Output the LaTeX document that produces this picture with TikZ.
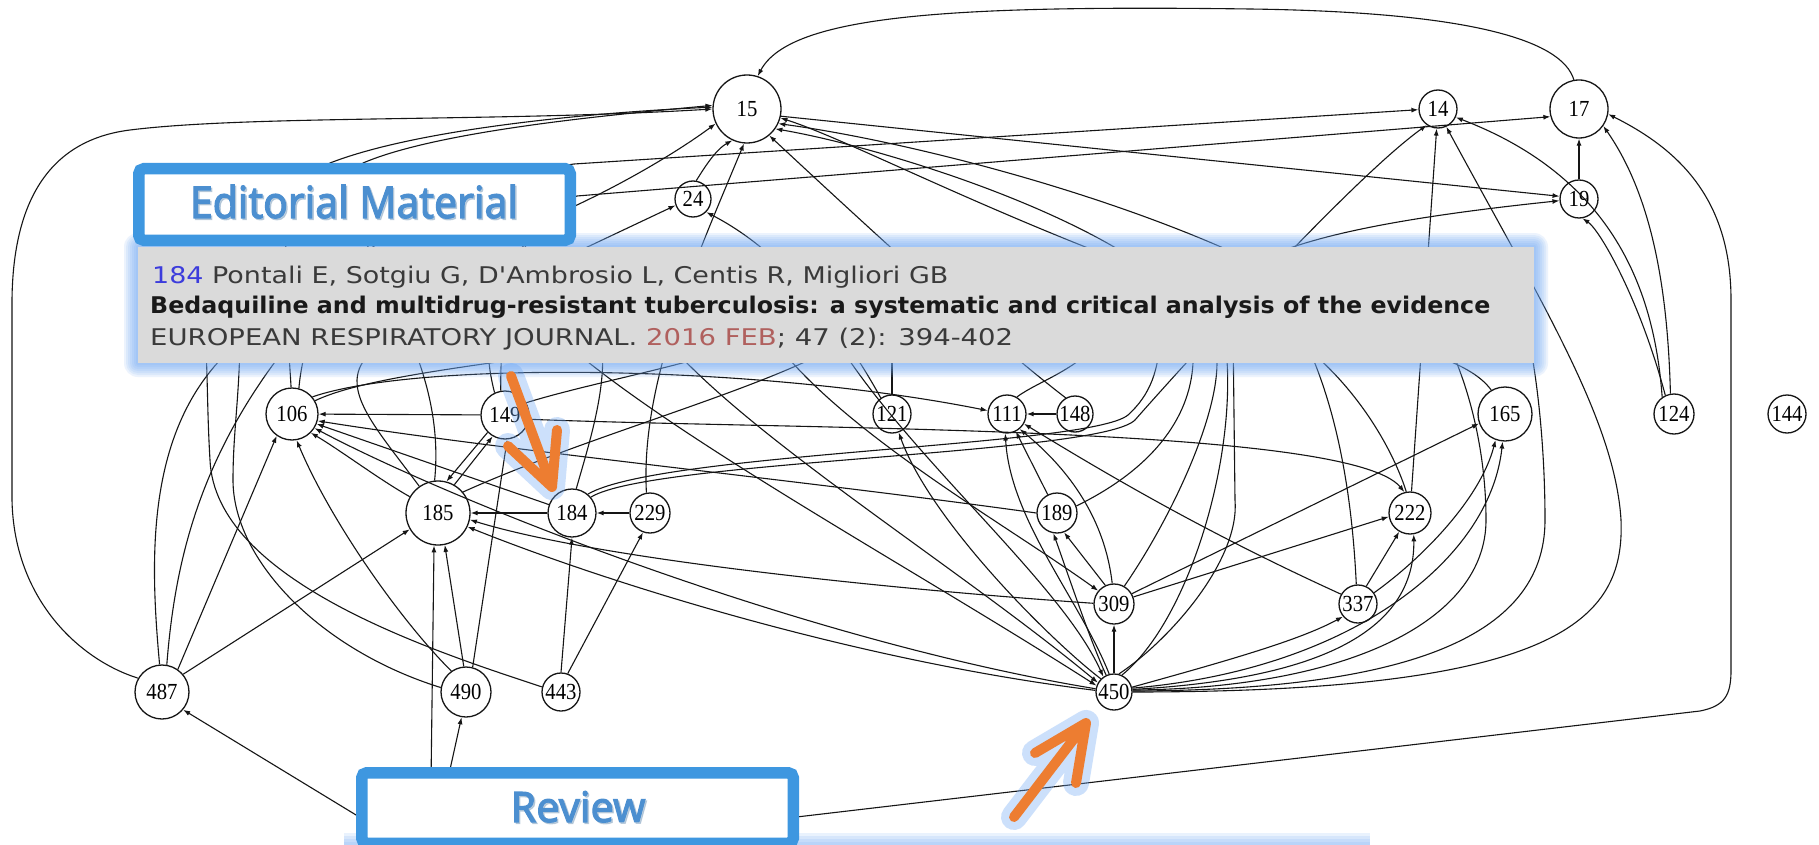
\documentclass[tikz,border=0pt]{standalone}
\usepackage{fontspec}
\usepackage{graphicx}
\usetikzlibrary{arrows.meta}
\newfontfamily\nodefont{Liberation Serif}
\newfontfamily\tipfont{DejaVu Sans}
\newfontfamily\boxfont[FakeBold=2.5]{Noto Sans}
\definecolor{edgeblk}{HTML}{151515}
\definecolor{boxblue}{HTML}{3E97E0}
\definecolor{boxtext}{HTML}{4C8FD0}
\definecolor{tipgray}{HTML}{DADADA}
\definecolor{glow}{HTML}{6FA8F5}
\definecolor{orangearr}{HTML}{ED7D31}
\definecolor{numblue}{HTML}{3C3CDC}
\definecolor{txtgray}{HTML}{3A3A3A}
\definecolor{datered}{HTML}{B0605E}
\definecolor{txtshadow}{HTML}{9AB4CC}
\newcommand\lab[1]{\scalebox{0.9}[1]{#1}}
\newcommand\edtext{\resizebox{328pt}{\height}{\boxfont\fontsize{44}{44}\selectfont Editorial Material}}
\newcommand\rvtext{\resizebox{135pt}{\height}{\boxfont\fontsize{42}{42}\selectfont Review}}
\tikzset{
  nd/.style={circle,draw=edgeblk,line width=1.3pt,inner sep=0pt,minimum size=#1,
    font=\nodefont\fontsize{23}{23}\selectfont},
  ed/.style={draw=edgeblk,line width=1.1pt,-{Latex[length=7pt,width=5pt]}},
  ln/.style={draw=edgeblk,line width=1.1pt},
  orarrow/.style={draw=orangearr,line width=10pt,line cap=round,line join=round},
  orglow/.style={draw=glow,line width=26pt,line cap=round,line join=round,opacity=0.35},
  bluebox/.style={draw=boxblue,fill=white,line width=11.5pt,rounded corners=5pt},
}
\begin{document}
\begin{tikzpicture}[x=1pt,y=-1pt]
\useasboundingbox (0,0) rectangle (1819,845);
\clip (0,0) rectangle (1819,845);
\fill[white] (0,0) rectangle (1819,845);
% ---------------- nodes
\node[nd=68pt]  (n15)  at (747,109) {\lab{15}};
\node[nd=36pt]  (n24)  at (693,199) {\lab{24}};
\node[nd=38pt]  (n14)  at (1438,109) {\lab{14}};
\node[nd=58pt]  (n17)  at (1579,109) {\lab{17}};
\node[nd=38pt]  (n19)  at (1579,199) {\lab{19}};
\node[nd=52pt]  (n106) at (292,414) {\lab{106}};
\node[nd=48pt]  (n149) at (505,415) {\lab{149}};
\node[nd=38pt]  (n121) at (892,414) {\lab{121}};
\node[nd=38pt]  (n111) at (1007,414) {\lab{111}};
\node[nd=36pt]  (n148) at (1075,414) {\lab{148}};
\node[nd=54pt]  (n165) at (1505,414) {\lab{165}};
\node[nd=40pt]  (n124) at (1674,414) {\lab{124}};
\node[nd=38pt]  (n144) at (1787,414) {\lab{144}};
\node[nd=64pt]  (n185) at (438,513) {\lab{185}};
\node[nd=48pt]  (n184) at (572,513) {\lab{184}};
\node[nd=40pt]  (n229) at (650,513) {\lab{229}};
\node[nd=40pt]  (n189) at (1057,513) {\lab{189}};
\node[nd=42pt]  (n222) at (1410,513) {\lab{222}};
\node[nd=40pt]  (n309) at (1114,604) {\lab{309}};
\node[nd=38pt]  (n337) at (1358,604) {\lab{337}};
\node[nd=54pt]  (n487) at (162,692) {\lab{487}};
\node[nd=50pt]  (n490) at (466,692) {\lab{490}};
\node[nd=38pt]  (n443) at (561,692) {\lab{443}};
\node[nd=36pt]  (n450) at (1114,692) {\lab{450}};
\coordinate (H) at (430,860);
% hidden ends under the tooltip
\coordinate (u1) at (240,330);
\coordinate (u2) at (300,330);
\coordinate (u3) at (205,330);
\coordinate (u4) at (600,330);
\coordinate (u5) at (700,330);
\coordinate (u6) at (780,330);
\coordinate (u7) at (860,330);
\coordinate (u8) at (1110,330);
\coordinate (u9) at (1300,330);
\coordinate (u10) at (892,330);
\coordinate (u11) at (540,320);
\coordinate (u12) at (650,320);
\coordinate (u13) at (760,320);
\coordinate (u14) at (1160,330);
\coordinate (u15) at (830,330);
% ---------------- edges: top
\draw[ed] (n17.100) .. controls (1562,40) and (1470,12) .. (1250,9) .. controls (950,5) and (790,15) .. (n15.72);
\draw[ed] (n487.150) .. controls (80,660) and (14,600) .. (12,500) -- (12,300) .. controls (13,200) and (50,140) .. (130,130) .. controls (250,115) and (500,122) .. (n15.180);
\draw[ed] (n106.92) .. controls (285,280) and (270,195) .. (330,163) .. controls (420,128) and (600,112) .. (n15.177);
\draw[ed] (n185.96) .. controls (450,330) and (320,230) .. (363,163) .. controls (440,130) and (620,114) .. (n15.174);
\draw[ed] (n106.75) .. controls (310,260) and (430,185) .. (574,164) -- (n14.182);
\draw[ed] (n149.100) .. controls (500,300) and (520,215) .. (577,196) -- (n17.195);
\draw[ed] (n149.115) .. controls (470,300) and (520,230) .. (577,205) .. controls (630,180) and (680,150) .. (n15.205);
\draw[ed] (n24.80) .. controls (703,170) and (715,150) .. (n15.-115);
\draw[ed] (n15.-12) -- (n19.172);
\draw[ed] (n184.40) .. controls (650,460) and (1100,455) .. (1135,420) .. controls (1170,380) and (1350,180) .. (n14.-125);
\draw[ln] (n184.50) .. controls (660,452) and (1090,447) .. (1128,415) .. controls (1150,395) and (1160,370) .. (u14);
\draw[ed] (n189.20) .. controls (1150,470) and (1190,420) .. (1193,363) .. controls (1195,280) and (1230,235) .. (n19.185);
\draw[ed] (n185.125) .. controls (370,420) and (330,380) .. (380,345) -- (n24.200);
\draw[ed] (n229.100) .. controls (640,380) and (700,250) .. (n15.-95);
\draw[ed] (n121.125) .. controls (860,360) and (800,260) .. (n24.-45);
\draw[ed] (n148.120) .. controls (990,340) and (860,220) .. (n15.-50);
\draw[ed] (n222.100) .. controls (1390,440) and (1330,330) .. (1200,290) .. controls (1000,220) and (850,140) .. (n15.-15);
\draw[ed] (n337.95) .. controls (1350,450) and (1320,330) .. (1250,260) .. controls (1100,190) and (900,140) .. (n15.-25);
\draw[ed] (n309.60) .. controls (1170,520) and (1217,420) .. (1217,363) .. controls (1217,250) and (900,150) .. (n15.-35);
\draw[ln] (n450.65) .. controls (1190,620) and (1240,450) .. (1225,340);
\draw[ln] (n450.75) .. controls (1170,640) and (1240,560) .. (1235,500) -- (1233,330);
\draw[ed] (n222) -- (n14);
\draw[ed] (n19) -- (n17);
% ---------------- right side
\draw[ed] (n124.100) .. controls (1668,300) and (1655,200) .. (n17.-35);
\draw[ed] (n124.115) .. controls (1640,300) and (1600,230) .. (n19.-80);
\draw[ed] (n124.125) .. controls (1655,300) and (1620,180) .. (n14.-25);
\draw[ed] (n450.0) .. controls (1560,692) and (1625,620) .. (1621,520) .. controls (1615,420) and (1540,300) .. (n14.-65);
\draw[ed] (H) -- (1700,711) .. controls (1725,706) and (1731,695) .. (1731,670) -- (1731,300) .. controls (1731,200) and (1680,150) .. (n17.-10);
\draw[ln] (n450.3) .. controls (1400,690) and (1545,640) .. (1545,520) .. controls (1545,420) and (1530,300) .. (1500,250);
\draw[ln] (n450.6) .. controls (1350,688) and (1486,620) .. (1486,520) .. controls (1486,420) and (1450,330) .. (1420,300);
% ---------------- left cluster
\draw[ed] (n149) -- (n106);
\draw[ed] (n184) -- (n185);
\draw[ed] (n229) -- (n184);
\draw[ed] (n184.160) -- (n106.-22);
\draw[ed] (n189.180) .. controls (800,480) and (500,450) .. (n106.-15);
\draw[ed] (n185.150) .. controls (380,480) and (340,450) .. (n106.-45);
\draw[ed] (n450.170) .. controls (800,640) and (450,500) .. (n106.-32);
\draw[ed] (n487.55) -- (n106.-125);
\draw[ed] (n487.40) -- (n185.-150);
\draw[ed] (n490.95) -- (n185.-78);
\draw[ed] (H) -- (n185.-97);
\draw[ed] (H) -- (n490.-100);
\draw[ed] (H) -- (n487.-40);
\draw[ed] (n443.90) -- (n184.-90);
\draw[ed] (n443.70) -- (n229.-110);
\draw[ed] (n490.125) .. controls (400,620) and (330,520) .. (n106.-80);
\draw[ed] (n490.75) -- (n149.-85);
\draw[ln] (n490.170) .. controls (320,650) and (233,560) .. (233,480) .. controls (233,430) and (240,395) .. (u1);
\draw[ln] (n443.165) .. controls (430,650) and (215,580) .. (210,460) .. controls (207,410) and (208,380) .. (u3);
\draw[ed] (n185.60) -- (n149.-120);
\draw[ed] (n149.-135) -- (n185.75);
\draw[ed] (n309.178) .. controls (900,590) and (600,560) .. (n185.-12);
\draw[ed] (n450.175) .. controls (850,660) and (600,580) .. (n185.-25);
\draw[ln] (n487.95) .. controls (150,560) and (145,430) .. (230,350);
\draw[ln] (n487.80) .. controls (175,560) and (200,450) .. (u2);
\draw[ln] (n184.80) .. controls (590,440) and (610,380) .. (u4);
\draw[ln] (n106.30) .. controls (380,370) and (550,360) .. (u5);
\draw[ln] (n149.30) .. controls (600,380) and (720,360) .. (u6);
\draw[ln] (n185.40) .. controls (600,430) and (800,380) .. (u7);
\draw[ed] (n106.40) .. controls (420,360) and (760,365) .. (n111.170);
\draw[ln] (n111.60) .. controls (1040,380) and (1080,370) .. (u8);
\draw[ln] (n165.120) .. controls (1470,360) and (1400,340) .. (u9);
\draw[ln] (n121.90) -- (u10);
\draw[ed] (u11) .. controls (640,420) and (900,560) .. (n450.160);
\draw[ed] (u12) .. controls (720,420) and (950,560) .. (n450.150);
\draw[ed] (u13) .. controls (820,420) and (1000,520) .. (n309.140);
\draw[ed] (u15) .. controls (900,450) and (1060,580) .. (n450.125);
% ---------------- center
\draw[ed] (n148) -- (n111);
\draw[ed] (n189) -- (n111);
\draw[ed] (n450.105) .. controls (1080,600) and (1010,520) .. (n111.-95);
\draw[ed] (n309.95) .. controls (1105,520) and (1070,470) .. (n111.-50);
\draw[ed] (n337.150) .. controls (1200,530) and (1100,470) .. (n111.-30);
\draw[ed] (n309.115) -- (n189.-70);
\draw[ed] (n450.115) .. controls (1090,640) and (1070,580) .. (n189.-100);
\draw[ed] (n450) -- (n309);
\draw[ed] (n309.20) -- (n222.190);
\draw[ed] (n309.30) -- (n165.200);
\draw[ed] (n337.65) -- (n222.-120);
\draw[ed] (n450.8) .. controls (1300,680) and (1415,640) .. (n222.-80);
\draw[ed] (n450.15) .. controls (1230,660) and (1300,640) .. (n337.-140);
\draw[ed] (n337.35) .. controls (1420,560) and (1480,500) .. (n165.-110);
\draw[ed] (n450.12) .. controls (1350,670) and (1490,560) .. (n165.-95);
\draw[ed] (n450.135) .. controls (1050,640) and (930,520) .. (n121.-70);
\draw[ed] (n149.-10) .. controls (800,430) and (1350,425) .. (n222.105);
% ---------------- tooltip glow and box
\foreach \g in {14,12,10,8,6,4,2}{
  \fill[glow,opacity=0.13,rounded corners=\g pt] (138-\g,247-\g) rectangle (1534+\g,363+\g);
}
\fill[tipgray] (138,247) rectangle (1534,363);
\node[anchor=base west,inner sep=0pt,text=txtgray] (t1) at (152,283)
  {\resizebox{796pt}{\height}{\tipfont\fontsize{23}{23}\selectfont\textcolor{numblue}{184} Pontali E, Sotgiu G, D'Ambrosio L, Centis R, Migliori GB}};
\node[anchor=base west,inner sep=0pt,text=black!90] (t2) at (150,313)
  {\resizebox{1340pt}{\height}{\tipfont\bfseries\fontsize{23}{23}\selectfont Bedaquiline and multidrug-resistant tuberculosis: a systematic and critical analysis of the evidence}};
\node[anchor=base west,inner sep=0pt,text=txtgray] (t3) at (150,345)
  {\resizebox{863pt}{\height}{\tipfont\fontsize{23}{23}\selectfont EUROPEAN RESPIRATORY JOURNAL. \textcolor{datered}{2016 FEB}; 47 (2): 394-402}};
% ---------------- editorial box
\draw[bluebox] (138.75,168.75) rectangle (570.25,240.25);
\node[anchor=base,inner sep=0pt,text=txtshadow,opacity=0.6] (eds) at (355.5,219.5) {\edtext};
\node[anchor=base,inner sep=0pt,text=boxtext] (ed) at (354,218) {\edtext};
% ---------------- bottom glow band
\foreach \g in {12,9,6,3}{
  \fill[glow,opacity=0.15] (344,845-\g) rectangle (1370,850);
}
% ---------------- review box
\draw[bluebox] (361.75,772.75) rectangle (793.25,843.25);
\node[anchor=base,inner sep=0pt,text=txtshadow,opacity=0.6] (rvs) at (579.5,823.5) {\rvtext};
\node[anchor=base,inner sep=0pt,text=boxtext] (rv) at (578,822) {\rvtext};
% ---------------- orange arrows
\coordinate (a1t) at (511,376);
\coordinate (a1h) at (552,487);
\coordinate (a1l) at (508,446);
\coordinate (a1r) at (557,430);
\draw[orglow] (a1t) -- (a1h) (a1l) -- (a1h) -- (a1r);
\draw[orarrow] (a1t) -- (a1h) (a1l) -- (a1h) -- (a1r);
\coordinate (a2t) at (1014,817);
\coordinate (a2h) at (1086,723);
\coordinate (a2l) at (1035,753);
\coordinate (a2r) at (1076,783);
\draw[orglow] (a2t) -- (a2h) (a2l) -- (a2h) -- (a2r);
\draw[orarrow] (a2t) -- (a2h) (a2l) -- (a2h) -- (a2r);
\end{tikzpicture}
\end{document}
